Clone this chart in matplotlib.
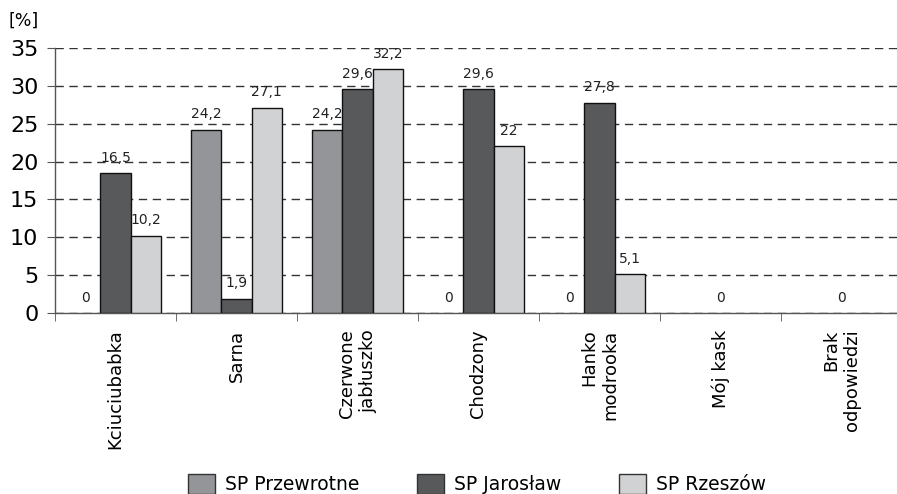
import matplotlib.pyplot as plt
import numpy as np
from matplotlib.patches import Patch


categories = [
    "Kciuciubabka",
    "Sarna",
    "Czerwone\njabłuszko",
    "Chodzony",
    "Hanko\nmodrooka",
    "Mój kask",
    "Brak\nodpowiedzi",
]
series_names = ["SP Przewrotne", "SP Jarosław", "SP Rzeszów"]
series_colors = ["#939598", "#58595b", "#d1d2d4"]

# bar heights as drawn in the picture
przewrotne = [0, 24.2, 24.2, 0, 0, 0, 0]
jaroslaw = [18.5, 1.9, 29.6, 29.6, 27.8, 0, 0]
rzeszow = [10.2, 27.1, 32.2, 22, 5.1, 0, 0]

# printed value labels (None = no label)
przewrotne_labels = ["0", "24,2", "24,2", "0", "0", None, None]
jaroslaw_labels = ["16,5", "1,9", "29,6", "29,6", "27,8", "0", "0"]
rzeszow_labels = ["10,2", "27,1", "32,2", "22", "5,1", None, None]

y_ticks = [0, 5, 10, 15, 20, 25, 30, 35]


def main():
    fig = plt.figure(figsize=(8.97, 4.94), dpi=100)
    W, H = 897, 494
    left, right, top, bottom = 55, 902, 48, 313
    ax = fig.add_axes([left / W, 1 - bottom / H, (right - left) / W, (bottom - top) / H])

    x = np.arange(len(categories))
    width = 0.25
    values = [przewrotne, jaroslaw, rzeszow]
    labels = [przewrotne_labels, jaroslaw_labels, rzeszow_labels]

    for i, (vals, labs, color) in enumerate(zip(values, labels, series_colors)):
        pos = x + (i - 1) * width
        edges = ["#111111" if v > 0 else "none" for v in vals]
        ax.bar(pos, vals, width, color=color, edgecolor=edges, linewidth=1.0, zorder=3)
        for p, v, lab in zip(pos, vals, labs):
            if lab is None:
                continue
            ax.annotate(lab, (p, v), xytext=(0, 6), textcoords="offset points",
                        ha="center", va="bottom", fontsize=10, color="#222222", zorder=4)

    ax.set_xlim(-0.5, len(categories) - 0.5)
    ax.set_ylim(0, 35)
    ax.set_yticks(y_ticks)
    ax.set_yticklabels([str(t) for t in y_ticks], fontsize=16)
    ax.yaxis.grid(True, linestyle=(0, (6, 4)), color="#333333", linewidth=1.0, zorder=0)

    ax.set_xticks(x)
    ax.set_xticklabels(categories, rotation=90, fontsize=13, va="top", ha="center",
                       multialignment="right", linespacing=1.25)
    ax.set_xticks(np.arange(len(categories) + 1) - 0.5, minor=True)
    ax.tick_params(axis="x", which="major", length=0, pad=12)
    ax.tick_params(axis="x", which="minor", length=6, direction="out", color="#555555")
    ax.tick_params(axis="y", length=6, direction="out", color="#555555", pad=6)

    for side in ["top", "right"]:
        ax.spines[side].set_visible(False)
    for side in ["left", "bottom"]:
        ax.spines[side].set_color("#555555")
        ax.spines[side].set_linewidth(1.0)

    fig.text(8 / W, 1 - 21 / H, "[%]", fontsize=12.5, ha="left", va="center")

    handles = [Patch(facecolor=c, edgecolor="#333333", linewidth=1.0) for c in series_colors]
    fig.legend(handles, series_names, loc="center", ncol=3, frameon=False,
               bbox_to_anchor=(477 / W, 1 - 484 / H), fontsize=13.5,
               handlelength=1.44, handleheight=1.3, handletextpad=0.53,
               columnspacing=3.1, borderpad=0, borderaxespad=0)

    fig.savefig("out.png", dpi=100)


if __name__ == "__main__":
    main()
